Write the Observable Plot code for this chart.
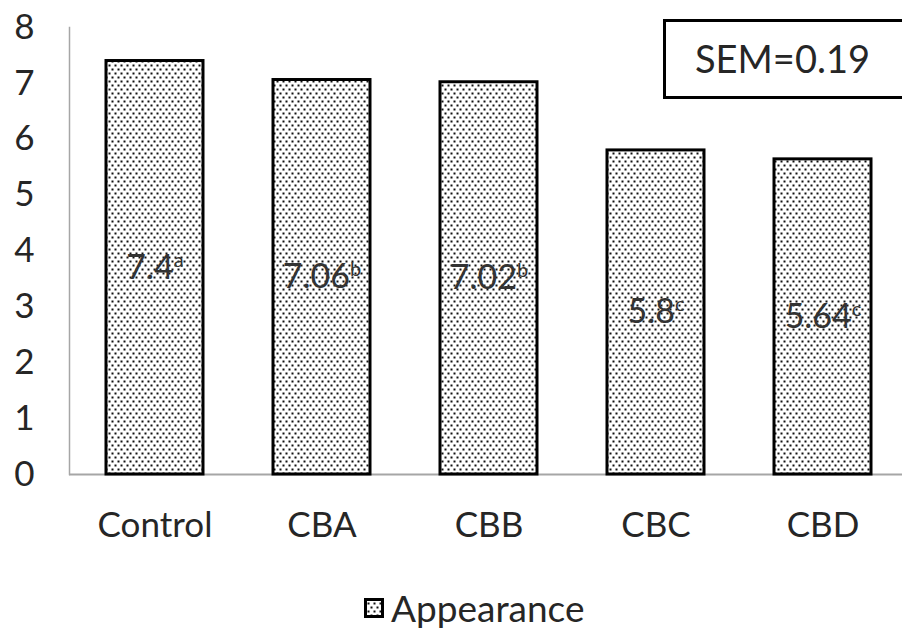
<!DOCTYPE html>
<html>
<head>
<meta charset="utf-8">
<script src="https://cdn.jsdelivr.net/npm/d3@7"></script>
<script src="https://cdn.jsdelivr.net/npm/@observablehq/plot@0.6"></script>
<style>
  html, body { margin: 0; padding: 0; background: #fff; overflow: hidden; }
  #wrap { position: relative; width: 902px; height: 629px; overflow: hidden; font-family: Lato, sans-serif; color: #262626; }
  #wrap svg.chart { display: block; }
  .sem { position: absolute; left: 663px; top: 19px; width: 280px; height: 80px; box-sizing: border-box;
         border: 3px solid #000; background: #fff; }
  .sem span { position: absolute; left: 29px; top: 50%; transform: translateY(-52%); font-size: 38px; white-space: nowrap; }
  .legend { position: absolute; left: 0; top: 580px; width: 902px; height: 49px; }
  .legend .name { position: absolute; left: 391px; top: 28px; transform: translateY(-52%); font-size: 37px; white-space: nowrap; }
</style>
</head>
<body>
<svg width="0" height="0" style="position:absolute">
  <defs>
    <pattern id="dots" patternUnits="userSpaceOnUse" width="6" height="8">
      <rect width="6" height="8" fill="#fff"></rect>
      <rect x="0.5" y="0.5" width="2" height="2" fill="#111"></rect>
      <rect x="3.5" y="4.5" width="2" height="2" fill="#111"></rect>
    </pattern>
  </defs>
</svg>
<div id="wrap"></div>
<script>
// Sensory appearance scores per treatment
const treatments = ["Control", "CBA", "CBB", "CBC", "CBD"];
const appearance = [7.4, 7.06, 7.02, 5.8, 5.64];
const groups = ["a", "b", "b", "c", "c"];
const yTicks = [0, 1, 2, 3, 4, 5, 6, 7, 8];
const semValue = 0.19;
const seriesName = "Appearance";

const data = treatments.map((t, i) => ({treatment: t, value: appearance[i], group: groups[i]}));

const chart = Plot.plot({
  width: 902,
  height: 580,
  marginTop: 27,
  marginBottom: 106,
  marginLeft: 69,
  marginRight: 0,
  style: {fontFamily: "Lato, sans-serif", fontSize: "35px", color: "#262626", background: "#fff"},
  x: {domain: treatments, range: [69, 907], paddingInner: 0.42, paddingOuter: 0.21, label: null},
  y: {domain: [0, 8], label: null},
  marks: [
    Plot.frame({anchor: "left", stroke: "#a6a6a6", strokeWidth: 1.5}),
    Plot.ruleY([0], {stroke: "#a6a6a6", strokeWidth: 2}),
    Plot.barY(data, {x: "treatment", y: "value", fill: "url(#dots)", stroke: "#000", strokeWidth: 3}),
    Plot.text(data, {x: "treatment", y: d => d.value / 2, text: d => String(d.value), fill: "#333", fontSize: 34}),
    Plot.axisY({ticks: yTicks, tickSize: 0, tickPadding: 35, tickFormat: d3.format("d"), label: null}),
    Plot.axisX({tickSize: 0, tickPadding: 38, label: null})
  ]
});
chart.classList.add("chart");

// significance letters as superscripts after each value label
d3.select(chart).selectAll('g[aria-label="text"] text').each(function(_, i) {
  d3.select(this).append("tspan")
    .attr("dy", "-0.6em")
    .attr("font-size", 20)
    .text(data[i].group);
});

const wrap = document.getElementById("wrap");
wrap.appendChild(chart);

const sem = document.createElement("div");
sem.className = "sem";
sem.innerHTML = `<span>SEM=${semValue}</span>`;
wrap.appendChild(sem);

const legend = document.createElement("div");
legend.className = "legend";
legend.innerHTML = `<svg width="20" height="20" style="position:absolute;left:364px;top:18px">
  <rect x="1.5" y="1.5" width="17" height="17" fill="url(#dots)" stroke="#000" stroke-width="3"></rect></svg>
  <span class="name">${seriesName}</span>`;
wrap.appendChild(legend);
</script>
</body>
</html>
